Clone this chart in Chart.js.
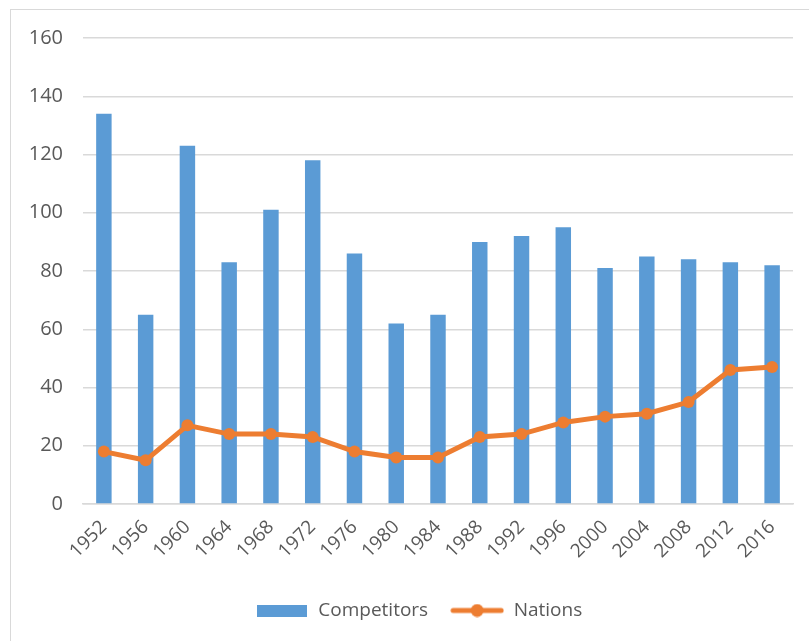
<!DOCTYPE html>
<html>
<head>
<meta charset="utf-8">
<script src="https://cdn.jsdelivr.net/npm/chart.js@4/dist/chart.umd.min.js"></script>
<style>
  html, body { margin: 0; padding: 0; background: #fff; }
  #wrap { position: relative; width: 809px; height: 641px; overflow: hidden; }
  #frame { position: absolute; left: 10px; top: 9px; width: 820px; height: 660px; border: 1.5px solid #D9D9D9; box-sizing: border-box; }
  canvas { position: absolute; left: 0; top: 0; }
</style>
</head>
<body>
<div id="wrap">
  <div id="frame"></div>
  <canvas id="c" width="809" height="641"></canvas>
</div>
<script>
const years = ['1952','1956','1960','1964','1968','1972','1976','1980','1984','1988','1992','1996','2000','2004','2008','2012','2016'];
const competitors = [134, 65, 123, 83, 101, 118, 86, 62, 65, 90, 92, 95, 81, 85, 84, 83, 82];
const nations = [18, 15, 27, 24, 24, 23, 18, 16, 16, 23, 24, 28, 30, 31, 35, 46, 47];
const yTicks = [0, 20, 40, 60, 80, 100, 120, 140, 160];

const BLUE = '#5B9BD5';
const ORANGE = '#ED7D31';
const TEXT = '#595959';
const GRID = '#D9D9D9';
const FONT = "'Open Sans', 'Liberation Sans', sans-serif";

function makeBarIcon() {
  const c = document.createElement('canvas');
  c.width = 50; c.height = 12;
  const g = c.getContext('2d');
  g.fillStyle = BLUE;
  g.fillRect(0, 0, 50, 12);
  return c;
}
function makeLineIcon() {
  const c = document.createElement('canvas');
  c.width = 54; c.height = 14;
  const g = c.getContext('2d');
  g.strokeStyle = ORANGE;
  g.lineWidth = 5;
  g.lineCap = 'round';
  g.beginPath(); g.moveTo(3, 7); g.lineTo(51, 7); g.stroke();
  g.fillStyle = ORANGE;
  g.beginPath(); g.arc(27, 7, 6.5, 0, Math.PI * 2); g.fill();
  return c;
}
const icons = [makeBarIcon(), makeLineIcon()];

const shiftLegend = {
  id: 'shiftLegend',
  afterLayout(chart) {
    if (chart.legend) {
      chart.legend.left += 22;
      chart.legend.right += 22;
    }
  }
};

new Chart(document.getElementById('c'), {
  data: {
    labels: years,
    datasets: [
      {
        type: 'line',
        label: 'Nations',
        data: nations,
        borderColor: ORANGE,
        backgroundColor: ORANGE,
        borderWidth: 5,
        pointRadius: 6,
        pointHoverRadius: 6,
        pointBackgroundColor: ORANGE,
        pointBorderWidth: 0,
        tension: 0,
        order: 0
      },
      {
        type: 'bar',
        label: 'Competitors',
        data: competitors,
        backgroundColor: BLUE,
        borderWidth: 0,
        barPercentage: 0.37,
        categoryPercentage: 1,
        order: 1
      }
    ]
  },
  plugins: [shiftLegend],
  options: {
    responsive: false,
    animation: false,
    devicePixelRatio: 1,
    layout: { padding: { top: 38, right: 16, left: 0, bottom: 11 } },
    plugins: {
      tooltip: { enabled: false },
      legend: {
        position: 'bottom',
        reverse: true,
        labels: {
          color: TEXT,
          font: { family: FONT, size: 19 },
          usePointStyle: true,
          pointStyleWidth: 54,
          boxHeight: 14,
          padding: 22,
          generateLabels(chart) {
            const items = Chart.defaults.plugins.legend.labels.generateLabels(chart);
            items.forEach(it => {
              it.pointStyle = it.text === 'Competitors' ? icons[0] : icons[1];
            });
            return items;
          }
        }
      }
    },
    scales: {
      x: {
        grid: { display: false },
        border: { display: true, color: GRID, width: 1.5 },
        ticks: {
          color: TEXT,
          font: { family: FONT, size: 19 },
          minRotation: 45,
          maxRotation: 45,
          autoSkip: false,
          padding: 4
        },
        afterFit(scale) { scale.height = 75; }
      },
      y: {
        min: 0,
        max: 160,
        afterBuildTicks(scale) { scale.ticks = yTicks.map(v => ({ value: v })); },
        grid: { color: GRID, lineWidth: 1.5, drawTicks: false },
        border: { display: false },
        ticks: {
          color: TEXT,
          font: { family: FONT, size: 20 },
          padding: 20
        },
        afterFit(scale) { scale.width = 83; }
      }
    }
  }
});
</script>
</body>
</html>
